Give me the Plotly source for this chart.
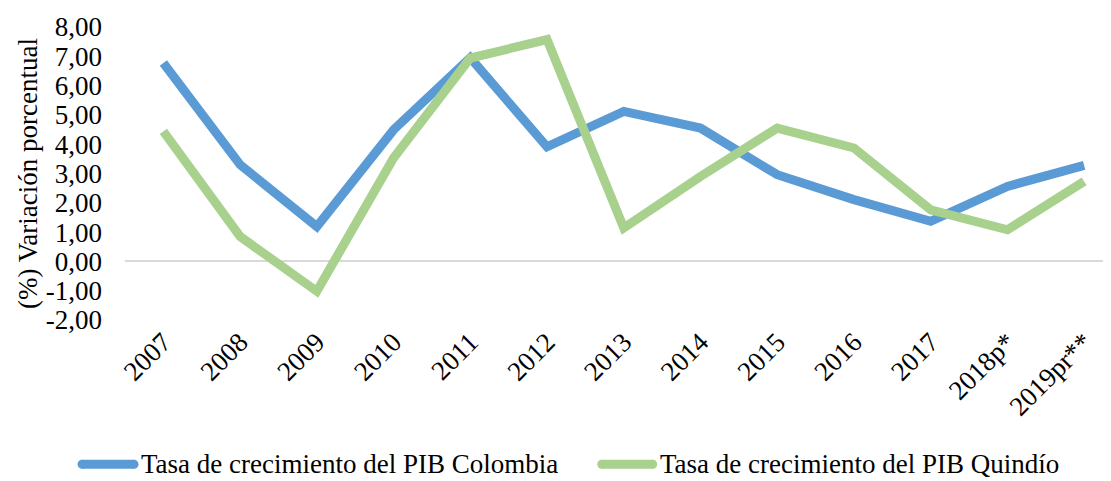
import plotly.graph_objects as go

years = ["2007", "2008", "2009", "2010", "2011", "2012", "2013", "2014",
         "2015", "2016", "2017", "2018p*", "2019pr**"]
colombia = [6.77, 3.30, 1.19, 4.49, 6.95, 3.91, 5.12, 4.55, 2.96, 2.11, 1.37, 2.56, 3.28]
quindio = [4.44, 0.85, -1.02, 3.53, 6.94, 7.57, 1.14, 2.90, 4.55, 3.87, 1.76, 1.08, 2.73]
series_names = ["Tasa de crecimiento del PIB Colombia",
                "Tasa de crecimiento del PIB Quindío"]
series_colors = ["#5B9BD5", "#A9D18E"]
ytick_vals = [-2, -1, 0, 1, 2, 3, 4, 5, 6, 7, 8]
ytick_text = ["-2,00", "-1,00", "0,00", "1,00", "2,00", "3,00", "4,00",
              "5,00", "6,00", "7,00", "8,00"]

font_family = "Liberation Serif"
fs = 27
lw = 9

# layout geometry (figure pixels)
W, H = 1103, 473
L, R, T, B = 116.5, 0, 19.3, 160.7
PW, PH = W - L - R, H - T - B


def px_x(fx):
    return (fx - L) / PW


def px_y(fy):
    return (H - B - fy) / PH


fig = go.Figure()
for vals, name, col in zip([colombia, quindio], series_names, series_colors):
    fig.add_trace(go.Scatter(x=years, y=vals, mode="lines", name=name,
                             line=dict(color=col, width=lw), showlegend=False))

# custom legend (long rounded line symbols like the original)
legend_items = [(69, 130, 132), (589, 649, 651)]
leg_y = 456.5
for (s0, s1, tx), name, col in zip(legend_items, series_names, series_colors):
    a, b = s0 + lw / 2, s1 - lw / 2
    fig.add_shape(type="line", xref="paper", yref="paper",
                  x0=px_x(a), x1=px_x(b), y0=px_y(leg_y), y1=px_y(leg_y),
                  line=dict(color=col, width=lw))
    for c in (a, b):
        fig.add_shape(type="circle", xref="paper", yref="paper",
                      xsizemode="pixel", ysizemode="pixel",
                      xanchor=px_x(c), yanchor=px_y(leg_y),
                      x0=-lw / 2, x1=lw / 2, y0=-lw / 2, y1=lw / 2,
                      fillcolor=col, line=dict(width=0))
    fig.add_annotation(x=px_x(tx), y=px_y(leg_y - 0.5), xref="paper", yref="paper",
                       xanchor="left", yanchor="middle", text=name,
                       showarrow=False, borderpad=0,
                       font=dict(family=font_family, size=fs, color="black"))

fig.update_layout(
    width=W, height=H,
    margin=dict(l=L, r=R, t=T, b=B, autoexpand=False),
    paper_bgcolor="white", plot_bgcolor="white",
    font=dict(family=font_family, size=fs, color="black"),
    showlegend=False,
    xaxis=dict(type="category", range=[-0.5, 12.35], showgrid=False,
               showline=False, zeroline=False, tickangle=-45, automargin=False,
               tickfont=dict(family=font_family, size=fs), ticks=""),
    yaxis=dict(range=[-2, 8], tickvals=ytick_vals, ticktext=ytick_text,
               showgrid=False, zeroline=True, zerolinecolor="#D9D9D9",
               zerolinewidth=2, showline=False, ticks="", automargin=False,
               ticklabelstandoff=22, tickfont=dict(family=font_family, size=fs),
               title=dict(text="(%) Variación porcentual",
                          font=dict(family=font_family, size=fs),
                          standoff=0)),
)

fig.write_html("out.html")
